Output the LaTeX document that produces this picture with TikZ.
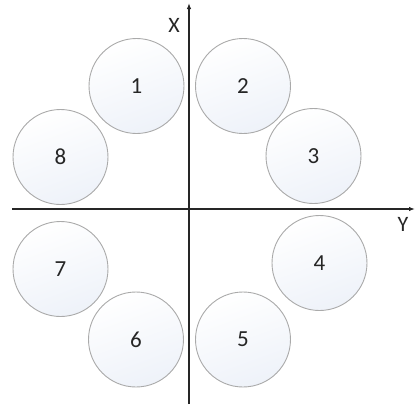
\documentclass[tikz,border=0pt]{standalone}
\usepackage{fontspec}
\setmainfont{Carlito}
\usetikzlibrary{arrows.meta}
\definecolor{ringgray}{RGB}{170,170,170}
\definecolor{ringfill}{RGB}{238,242,249}
\tikzset{
  ring/.style={circle, draw=ringgray, line width=0.9pt, minimum size=95pt,
    inner sep=0pt, top color=white, bottom color=ringfill, shading angle=20,
    text=black!85, font=\fontsize{23}{26}\selectfont},
  axis/.style={line width=1.2pt, draw=black!85, -{Latex[length=6pt,width=4.5pt]}},
  axislabel/.style={text=black!85, font=\fontsize{22}{26}\selectfont, inner sep=0pt}
}
\begin{document}
\begin{tikzpicture}[x=1pt,y=-1pt]
    \useasboundingbox (0,0) rectangle (416,407);
    % Axes
    \coordinate (ybeg) at (12,209);
    \coordinate (yend) at (415,209);
    \coordinate (xbeg) at (189,404);
    \coordinate (xend) at (189,3);
    \draw[axis] (ybeg) -- (yend);
    \draw[axis] (xbeg) -- (xend);
    \node[axislabel] (xlab) at (174,25) {X};
    \node[axislabel] (ylab) at (403,224) {Y};
    % Circles
    \node[ring] (c1) at (136.5,86) {1};
    \node[ring] (c2) at (243,86) {2};
    \node[ring] (c3) at (313.5,156) {3};
    \node[ring] (c4) at (319.5,263) {4};
    \node[ring] (c5) at (243,339.5) {5};
    \node[ring] (c6) at (136,339.5) {6};
    \node[ring] (c7) at (60.5,269) {7};
    \node[ring] (c8) at (60.5,157) {8};
  \end{tikzpicture}
\end{document}
